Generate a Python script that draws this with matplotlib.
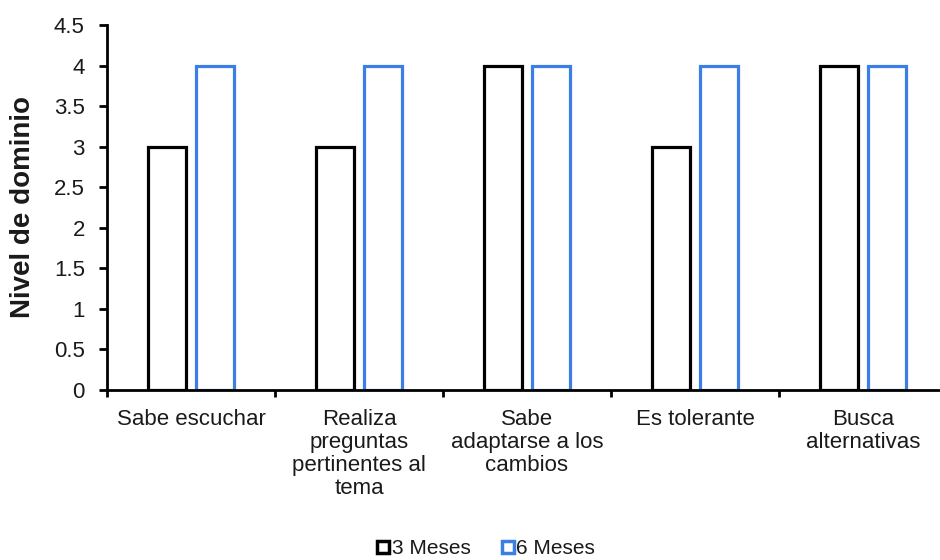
import matplotlib
matplotlib.use("Agg")
import matplotlib.pyplot as plt
import numpy as np
from matplotlib.lines import Line2D

plt.rcParams['font.family'] = ['Liberation Sans', 'DejaVu Sans']

categories = ["Sabe escuchar", "Realiza\npreguntas\npertinentes al\ntema",
              "Sabe\nadaptarse a los\ncambios", "Es tolerante", "Busca\nalternativas"]
series_names = ["3 Meses", "6 Meses"]
meses3 = [3, 3, 4, 3, 4]
meses6 = [4, 4, 4, 4, 4]
yticks = [0, 0.5, 1, 1.5, 2, 2.5, 3, 3.5, 4, 4.5]
ytick_labels = ["0", "0.5", "1", "1.5", "2", "2.5", "3", "3.5", "4", "4.5"]

black = "#000000"
blue = "#3b7fe6"
txt = "#1a1a1a"
fs = 16

fig = plt.figure(figsize=(9.4, 5.6), dpi=100)
ax = fig.add_axes([107/940, 170/560, 840/940, 365/560])

x = np.arange(len(categories))
w = 0.225
off = 0.143
ax.bar(x - off, meses3, width=w, facecolor="white", edgecolor=black, linewidth=2.3)
ax.bar(x + off, meses6, width=w, facecolor="white", edgecolor=blue, linewidth=2.3)

ax.set_xlim(-0.5, len(categories) - 0.5)
ax.set_ylim(0, 4.5)
ax.set_yticks(yticks)
ax.set_yticklabels(ytick_labels, fontsize=fs, color=txt)
ax.set_xticks(x)
ax.set_xticklabels(categories, fontsize=fs, linespacing=1.14, va="top", color=txt)
ax.tick_params(axis="x", which="major", length=0, pad=13.5)
ax.set_xticks(np.arange(-0.5, len(categories), 1.0), minor=True)
ax.tick_params(axis="x", which="minor", length=5, width=2, direction="out")
ax.tick_params(axis="y", length=6, width=2, direction="out", pad=10)

for s in ["top", "right"]:
    ax.spines[s].set_visible(False)
for s in ["left", "bottom"]:
    ax.spines[s].set_linewidth(2)
    ax.spines[s].set_color("black")

ax.set_ylabel("Nivel de dominio", fontsize=20, fontweight="bold", color=txt)
ax.yaxis.set_label_coords((36 - 107) / 840, 0.5)

handles = [Line2D([], [], marker="s", linestyle="none", markersize=8.5,
                  markerfacecolor="white", markeredgecolor=black, markeredgewidth=2.5),
           Line2D([], [], marker="s", linestyle="none", markersize=8.5,
                  markerfacecolor="white", markeredgecolor=blue, markeredgewidth=2.5)]
fig.legend(handles, series_names, loc="center", bbox_to_anchor=(484/940, 1 - 549/560),
           ncol=2, frameon=False, fontsize=15, handletextpad=-0.1, columnspacing=1.3,
           handlelength=1.0, labelcolor=txt)

fig.savefig("out.png", dpi=100)
